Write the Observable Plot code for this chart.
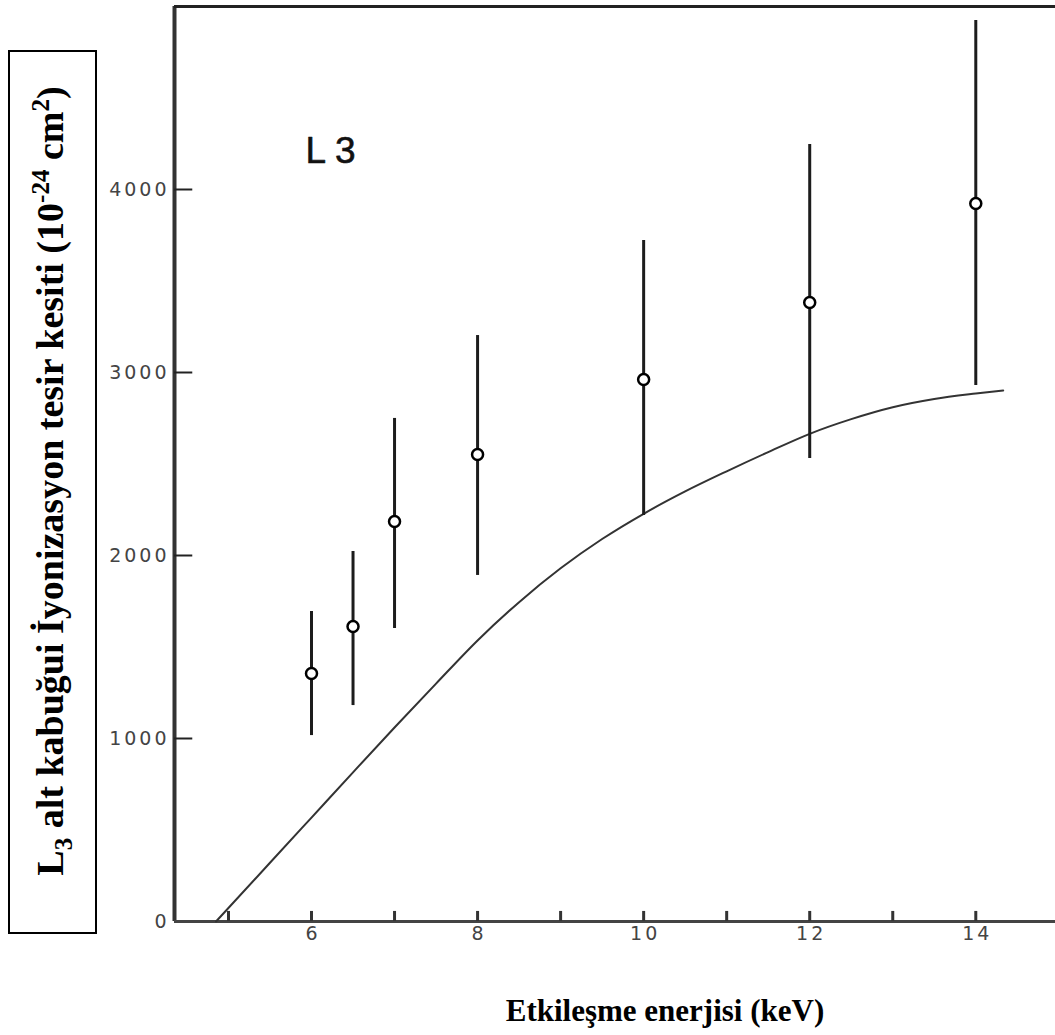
<!DOCTYPE html>
<html>
<head>
<meta charset="utf-8">
<script src="https://cdn.jsdelivr.net/npm/d3@7"></script>
<script src="https://cdn.jsdelivr.net/npm/@observablehq/plot@0.6"></script>
<style>
  html, body { margin: 0; padding: 0; background: #fff; }
  #wrap { position: relative; width: 1055px; height: 1035px; overflow: hidden; }
  #ybox { position: absolute; left: 8px; top: 50px; width: 85px; height: 880px; border: 2px solid #000; box-sizing: content-box; }
  #ytitle { position: absolute; left: 50px; top: 481px; transform: translate(-50%, -50%) rotate(-90deg);
    white-space: nowrap; font-family: "Liberation Serif", "Times New Roman", serif; font-weight: bold; font-size: 38px; line-height: 1; color: #000; }
  #ytitle sub, #ytitle sup { font-size: 66%; line-height: 0; }
  #xtitle { position: absolute; left: 665px; top: 995px; transform: translateX(-50%);
    white-space: nowrap; font-family: "Liberation Serif", "Times New Roman", serif; font-weight: bold; font-size: 31px; line-height: 1; color: #000; }
</style>
</head>
<body>
<div id="wrap">
  <div id="chart"></div>
  <div id="ybox"></div>
  <div id="ytitle">L<sub>3</sub> alt kabuğui İyonizasyon tesir kesiti (10<sup>-24</sup> cm<sup>2</sup>)</div>
  <div id="xtitle">Etkileşme enerjisi (keV)</div>
</div>
<script>
// Measured cross sections (10^-24 cm^2) vs incident energy (keV)
const energy    = [6, 6.5, 7, 8, 10, 12, 14];
const sigma     = [1355, 1612, 2186, 2552, 2962, 3383, 3923];
const sigmaLow  = [1016, 1180, 1601, 1891, 2219, 2530, 2929];
const sigmaHigh = [1694, 2022, 2749, 3202, 3721, 4246, 4923];

// Theoretical curve
const theoryE = [4.85, 5.5, 6, 6.5, 7, 7.5, 8, 8.5, 9, 9.5, 10, 10.5, 11, 11.5, 12, 12.5, 13, 13.5, 14, 14.33];
const theoryS = [0, 321, 568, 815, 1060, 1300, 1536, 1745, 1930, 2090, 2228, 2350, 2460, 2565, 2665, 2745, 2810, 2855, 2885, 2902];

// Axes
const xDomain = [4.35, 14.96];
const yDomain = [0, 5000];
const xTicks = [5, 6, 7, 8, 9, 10, 11, 12, 13, 14];
const xTickLabels = [6, 8, 10, 12, 14];
const yTicks = [0, 1000, 2000, 3000, 4000];
const panelLabel = "L 3";

const points = energy.map((e, i) => ({e, s: sigma[i], lo: sigmaLow[i], hi: sigmaHigh[i]}));
const curve = theoryE.map((e, i) => ({e, s: theoryS[i]}));

const ink = "#1c1c1c";

const plot = Plot.plot({
  width: 1055,
  height: 1035,
  marginLeft: 174,
  marginRight: 0,
  marginTop: 6,
  marginBottom: 114,
  style: {background: "#fff", fontFamily: "'DejaVu Sans', sans-serif", overflow: "visible"},
  x: {domain: xDomain, label: null},
  y: {domain: yDomain, label: null},
  marks: [
    // frame lines (left, bottom, top)
    Plot.ruleX([xDomain[0]], {y1: yDomain[0], y2: yDomain[1], stroke: "#333", strokeWidth: 4}),
    Plot.ruleY([yDomain[0]], {x1: xDomain[0], x2: xDomain[1], stroke: "#444", strokeWidth: 3}),
    Plot.ruleY([yDomain[1]], {x1: xDomain[0], x2: xDomain[1], stroke: "#222", strokeWidth: 3}),
    // inward ticks
    Plot.ruleY(yTicks.slice(1), {x1: xDomain[0], x2: xDomain[0] + 0.22, stroke: "#222", strokeWidth: 2}),
    Plot.ruleX(xTicks, {y1: 0, y2: 55, stroke: "#333", strokeWidth: 3}),
    // tick labels
    Plot.axisY({ticks: yTicks, tickSize: 0, tickPadding: 5, label: null, fill: "#444", tickFormat: d => String(d)}),
    Plot.axisX({ticks: xTickLabels, tickSize: 0, tickPadding: 5, label: null, fill: "#444", dx: 1.5, tickFormat: d => String(d)}),
    // theoretical curve
    Plot.line(curve, {x: "e", y: "s", curve: "monotone-x", stroke: "#333", strokeWidth: 2}),
    // error bars
    Plot.ruleX(points, {x: "e", y1: "lo", y2: "hi", stroke: ink, strokeWidth: 3}),
    // data points
    Plot.dot(points, {x: "e", y: "s", r: 5.5, fill: "#fff", stroke: "#000", strokeWidth: 2.5}),
    // panel label
    Plot.text([panelLabel], {frameAnchor: "top-left", dx: 131, dy: 130, text: d => d, textAnchor: "start",
      fontSize: 37, fill: "#111", stroke: "#111", strokeWidth: 0.6, fontFamily: "'Liberation Sans', Arial, sans-serif"})
  ]
});

document.getElementById("chart").appendChild(plot);

// larger, slightly spaced numeric tick labels (scan uses a wide typeface)
d3.select(plot).selectAll('g[aria-label="y-axis tick label"] text, g[aria-label="x-axis tick label"] text')
  .style("font-size", "19px")
  .style("letter-spacing", "3px");
</script>
</body>
</html>
